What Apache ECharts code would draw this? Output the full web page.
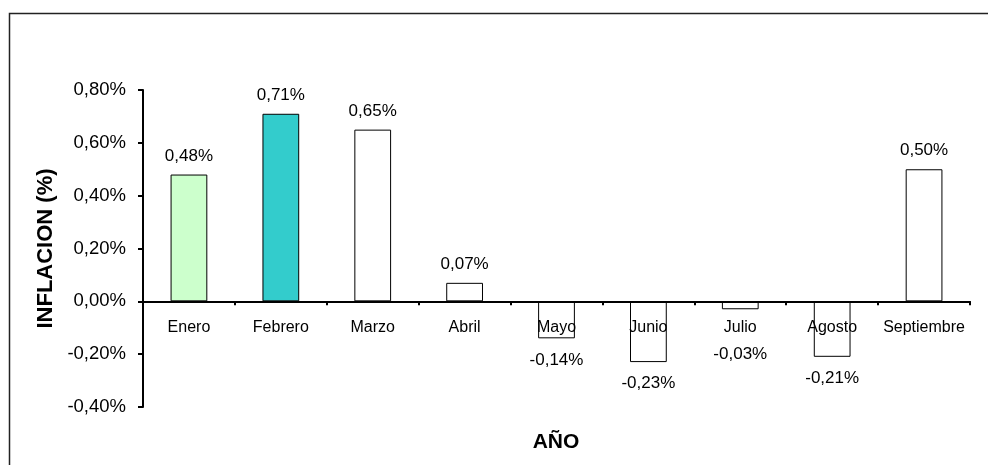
<!DOCTYPE html>
<html>
<head>
<meta charset="utf-8">
<script src="https://cdn.jsdelivr.net/npm/echarts@6/dist/echarts.min.js"></script>
<style>
html,body{margin:0;padding:0;background:#fff;}
#c{width:988px;height:465px;}
</style>
</head>
<body>
<div id="c"></div>
<script>
const categories = ['Enero','Febrero','Marzo','Abril','Mayo','Junio','Julio','Agosto','Septiembre'];
const values = [0.48, 0.71, 0.65, 0.07, -0.14, -0.23, -0.03, -0.21, 0.50];
const barColors = ['#CCFFCC','#33CCCC','#FFFFFF','#FFFFFF','#FFFFFF','#FFFFFF','#FFFFFF','#FFFFFF','#FFFFFF'];
const yTicks = [-0.4, -0.2, 0, 0.2, 0.4, 0.6, 0.8];
const yAxisTitle = 'INFLACION (%)';
const xAxisTitle = 'AÑO';

const fmt = v => v.toFixed(2).replace('.', ',') + '%';
const font = 'Liberation Sans, Arial, sans-serif';

const gridTop = 90, gridBottom = 58, H = 465;
const yMin = yTicks[0], yMax = yTicks[yTicks.length - 1];
const plotH = H - gridTop - gridBottom;
const pxPerUnit = plotH / (yMax - yMin);
const zeroFromBottom = plotH * (0 - yMin) / (yMax - yMin);

// negative labels are kept clear of the category labels under the axis
const labelDistance = v => v >= 0 ? 10 : Math.max(13, 44 - Math.abs(v) * pxPerUnit);

const chart = echarts.init(document.getElementById('c'));
chart.setOption({
  animation: false,
  backgroundColor: '#fff',
  grid: {left: 143, top: gridTop, right: 18, bottom: gridBottom, containLabel: false},
  graphic: [
    {type: 'rect', shape: {x: 9.5, y: 13.5, width: 1100, height: 600},
     style: {fill: 'none', stroke: '#222', lineWidth: 1.5}, silent: true, z: -1},
    {type: 'text', x: 556, y: 442,
     style: {text: xAxisTitle, font: 'bold 21px ' + font, fill: '#000',
       textAlign: 'center', textVerticalAlign: 'middle'}}
  ],
  xAxis: {
    type: 'category',
    data: categories,
    z: 5,
    offset: -zeroFromBottom,
    axisLine: {onZero: false, lineStyle: {color: '#000', width: 2}},
    axisTick: {show: true, inside: false, length: 4, lineStyle: {color: '#000', width: 2}},
    axisLabel: {color: '#000', fontSize: 16, fontFamily: font, margin: 18, interval: 0}
  },
  yAxis: {
    type: 'value',
    min: yMin, max: yMax, interval: 0.2,
    name: yAxisTitle, nameLocation: 'middle', nameGap: 86,
    nameTextStyle: {color: '#000', fontSize: 22, fontWeight: 'bold', fontFamily: font},
    axisLine: {show: true, lineStyle: {color: '#000', width: 2}},
    axisTick: {show: true, length: 5, lineStyle: {color: '#000', width: 2}},
    axisLabel: {color: '#000', fontSize: 18.5, fontFamily: font, margin: 17,
      formatter: v => fmt(v)},
    splitLine: {show: false}
  },
  series: [{
    type: 'bar',
    barWidth: '40%',
    z: 2,
    data: values.map((v, i) => ({
      value: v,
      itemStyle: {color: barColors[i], borderColor: '#000', borderWidth: 1},
      label: {position: v >= 0 ? 'top' : 'bottom', distance: labelDistance(v)}
    })),
    label: {show: true, color: '#000', fontSize: 17, fontFamily: font,
      formatter: p => fmt(p.value)}
  }]
});
</script>
</body>
</html>
